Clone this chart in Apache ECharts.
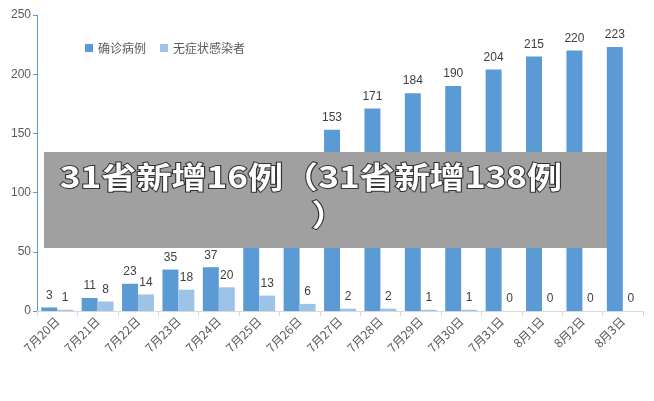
<!DOCTYPE html>
<html>
<head>
<meta charset="utf-8">
<script src="https://cdn.jsdelivr.net/npm/echarts@6/dist/echarts.min.js"></script>
<style>
  html, body { margin: 0; padding: 0; background: #fff; }
  #grafico { width: 654px; height: 401px; }
</style>
</head>
<body>
<div id="grafico"></div>
<script>
// datos
const fechas = ['7月20日', '7月21日', '7月22日', '7月23日', '7月24日', '7月25日', '7月26日',
  '7月27日', '7月28日', '7月29日', '7月30日', '7月31日', '8月1日', '8月2日', '8月3日'];
const confirmados = [3, 11, 23, 35, 37, 75, 112, 153, 171, 184, 190, 204, 215, 220, 223];
const asintomaticos = [1, 8, 14, 18, 20, 13, 6, 2, 2, 1, 1, 0, 0, 0, 0];
const ticksY = [0, 50, 100, 150, 200, 250];

const chart = echarts.init(document.getElementById('grafico'));

const etiqueta = {
  show: true,
  position: 'top',
  distance: 6,
  color: '#404040',
  fontSize: 12,
  fontFamily: 'Liberation Sans, Arial, sans-serif'
};

// estilo común del titular
const estiloTitular = {
  align: 'center',
  verticalAlign: 'top',
  fill: '#ffffff',
  stroke: '#333333',
  lineWidth: 2,
  font: 'bold 30px "Noto Sans CJK SC"'
};

chart.setOption({
  animation: false,
  grid: { left: 37, right: 11, top: 15, bottom: 90 },
  legend: {
    left: 80,
    top: 37,
    itemWidth: 8,
    itemHeight: 8,
    itemGap: 14,
    icon: 'rect',
    textStyle: { color: '#595959', fontSize: 12, fontFamily: 'Noto Sans CJK SC' },
    data: ['确诊病例', '无症状感染者']
  },
  xAxis: {
    type: 'category',
    data: fechas,
    axisLine: { lineStyle: { color: '#D9D9D9' } },
    axisTick: { show: true, length: 5, lineStyle: { color: '#D9D9D9' } },
    axisLabel: {
      rotate: 45,
      color: '#595959',
      fontSize: 12,
      margin: 8,
      fontFamily: 'Noto Sans CJK SC'
    }
  },
  yAxis: {
    type: 'value',
    min: ticksY[0],
    max: ticksY[ticksY.length - 1],
    interval: 50,
    splitLine: { show: false },
    axisLine: { show: true, lineStyle: { color: '#5B9BD5' } },
    axisTick: { show: true, length: 4, lineStyle: { color: '#5B9BD5' } },
    axisLabel: { color: '#595959', fontSize: 12, margin: 6, fontFamily: 'Liberation Sans, Arial, sans-serif' }
  },
  series: [
    {
      name: '确诊病例',
      type: 'bar',
      data: confirmados,
      barGap: '0%',
      barCategoryGap: '21%',
      itemStyle: { color: '#5B9BD5' },
      label: etiqueta
    },
    {
      name: '无症状感染者',
      type: 'bar',
      data: asintomaticos,
      itemStyle: { color: '#9DC3E6' },
      label: etiqueta
    }
  ],
  // recuadro gris con el titular superpuesto
  graphic: [
    {
      type: 'rect',
      left: 44,
      top: 152,
      z: 100,
      shape: { width: 563, height: 96 },
      style: { fill: '#A0A0A0' }
    },
    {
      type: 'text',
      z: 101,
      x: 311,
      y: 162,
      scaleX: 1.17,
      style: Object.assign({ text: '31省新增16例（31省新增138例' }, estiloTitular)
    },
    {
      type: 'text',
      z: 101,
      x: 329,
      y: 200,
      scaleX: 1.17,
      style: Object.assign({ text: '）' }, estiloTitular)
    }
  ]
});
</script>
</body>
</html>
